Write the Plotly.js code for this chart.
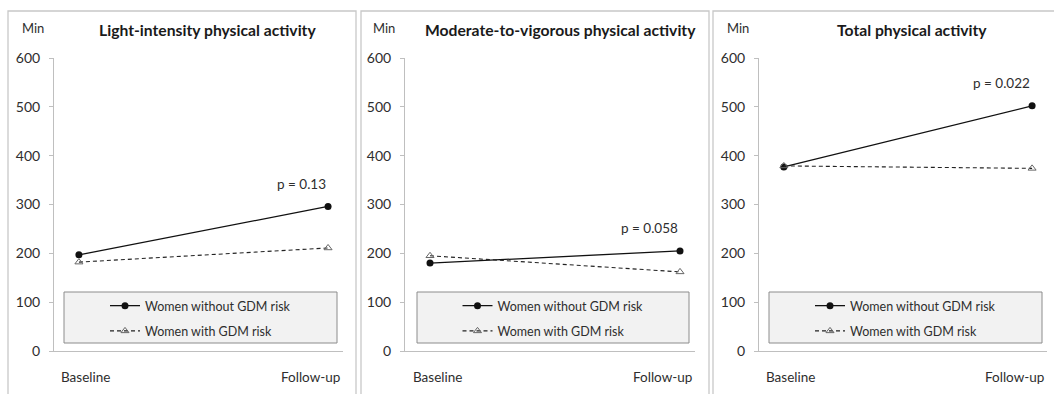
<!DOCTYPE html>
<html>
<head>
<meta charset="utf-8">
<script src="https://cdn.plot.ly/plotly-3.0.1.min.js"></script>
<style>html,body{margin:0;padding:0;background:#fff;}#chart{width:1054px;height:394px;}</style>
</head>
<body>
<div id="chart"></div>
<script>
// ---- data ----
const timepoints = ["Baseline", "Follow-up"];
const panelTitles = ["Light-intensity physical activity", "Moderate-to-vigorous physical activity", "Total physical activity"];
const seriesNames = ["Women without GDM risk", "Women with GDM risk"];
const lightNoRisk = [197, 296];
const lightRisk = [182, 211];
const mvpaNoRisk = [180, 205];
const mvpaRisk = [195, 162];
const totalNoRisk = [377, 502];
const totalRisk = [379, 374];
const pValues = ["p = 0.13", "p = 0.058", "p = 0.022"];
const pLabelY = [342, 252, 549];
const yTicks = [0, 100, 200, 300, 400, 500, 600];

// ---- layout helpers (pixel -> paper) ----
const W = 1054, H = 394;
const px = v => v / W;
const py = v => 1 - v / H;
const FONT = "Lato, 'Open Sans', sans-serif";
const TXT = "#2e2e2e";

const axisX = [[54, 343], [405, 695], [759, 1047]];
const frames = [[8, 356], [361, 709], [713, 1070]];
const legendBoxes = [[64, 337], [417, 689], [769, 1042]];
const titleX = [207, 560, 912];

const noRisk = [lightNoRisk, mvpaNoRisk, totalNoRisk];
const risk = [lightRisk, mvpaRisk, totalRisk];

const traces = [];
const layout = {
  width: W, height: H,
  margin: {l: 0, r: 0, t: 0, b: 0},
  paper_bgcolor: "#ffffff",
  plot_bgcolor: "rgba(0,0,0,0)",
  font: {family: FONT, size: 13, color: TXT},
  showlegend: true,
  shapes: [],
  annotations: []
};

for (let i = 0; i < 3; i++) {
  const sfx = i === 0 ? "" : String(i + 1);
  const legName = i === 0 ? "legend" : "legend" + (i + 1);
  const xa = "x" + sfx, ya = "y" + sfx;
  traces.push({
    x: [0, 1], y: noRisk[i], xaxis: xa, yaxis: ya,
    type: "scatter", mode: "lines+markers",
    name: seriesNames[0], legend: legName, legendgroup: "a" + i,
    line: {color: "#111111", width: 1.3},
    marker: {symbol: "circle", size: 7, color: "#111111"},
    hoverinfo: "skip"
  });
  traces.push({
    x: [0, 1], y: risk[i], xaxis: xa, yaxis: ya,
    type: "scatter", mode: "lines+markers",
    name: seriesNames[1], legend: legName, legendgroup: "b" + i,
    line: {color: "#222222", width: 1.1, dash: "4px,3px"},
    marker: {symbol: "triangle-up-open", size: 7, color: "#666666", line: {width: 1}},
    hoverinfo: "skip"
  });

  layout["xaxis" + sfx] = {
    domain: [px(axisX[i][0]), px(axisX[i][1])],
    anchor: ya,
    range: [-0.1, 1.06],
    tickvals: [0, 1],
    showticklabels: false,
    showgrid: false, zeroline: false,
    showline: true, linecolor: "#bfbfbf", linewidth: 1,
    ticks: "",
    fixedrange: true
  };
  layout["yaxis" + sfx] = {
    domain: [1 - 351 / H, 1 - 58 / H],
    anchor: xa,
    range: [0, 600],
    tickvals: yTicks,
    showgrid: false, zeroline: false,
    showline: true, linecolor: "#bfbfbf", linewidth: 1,
    ticks: "outside", ticklen: 4, tickcolor: "#bfbfbf",
    ticklabelstandoff: 6,
    tickfont: {family: FONT, size: 14, color: TXT},
    fixedrange: true
  };

  // category labels under the x axis
  timepoints.forEach((t, j) => {
    layout.annotations.push({
      text: t, xref: xa, yref: "paper",
      x: j, y: py(377),
      xanchor: j === 0 ? "center" : "right",
      xshift: j === 0 ? 7 : 14,
      yanchor: "middle", showarrow: false,
      font: {family: FONT, size: 13.5, color: TXT}
    });
  });

  // panel frame
  layout.shapes.push({
    type: "rect", xref: "paper", yref: "paper",
    x0: px(frames[i][0]), x1: px(frames[i][1]), y0: py(420), y1: py(11),
    line: {color: "#c8c8c8", width: 1.3}, fillcolor: "rgba(0,0,0,0)", layer: "below"
  });
  // legend box
  layout.shapes.push({
    type: "rect", xref: "paper", yref: "paper",
    x0: px(legendBoxes[i][0]), x1: px(legendBoxes[i][1]), y0: py(343), y1: py(292),
    line: {color: "#8c8c8c", width: 1}, fillcolor: "#f2f2f2", layer: "below"
  });

  layout[legName] = {
    x: px((legendBoxes[i][0] + legendBoxes[i][1]) / 2), xanchor: "center",
    y: py(291), yanchor: "top",
    xref: "paper", yref: "paper",
    bgcolor: "rgba(0,0,0,0)", borderwidth: 0,
    traceorder: "grouped", tracegroupgap: 6,
    itemwidth: 30,
    font: {family: FONT, size: 12.5, color: TXT}
  };

  // title
  layout.annotations.push({
    text: "<b>" + panelTitles[i] + "</b>", xref: "paper", yref: "paper",
    x: px(titleX[i]), y: py(30), xanchor: "center", yanchor: "middle",
    showarrow: false, font: {family: FONT, size: 15.7, color: "#1a1a1a"}
  });
  // "Min" unit label
  layout.annotations.push({
    text: "Min", xref: "paper", yref: "paper",
    x: px(axisX[i][0] - 21), y: py(28), xanchor: "center", yanchor: "middle",
    showarrow: false, font: {family: FONT, size: 13, color: TXT}
  });
  // p-value
  layout.annotations.push({
    text: pValues[i], xref: xa, yref: ya,
    x: 1, y: pLabelY[i], xanchor: "right", yanchor: "middle", xshift: 0,
    showarrow: false, font: {family: FONT, size: 13.5, color: TXT}
  });
}

Plotly.newPlot("chart", traces, layout, {displayModeBar: false, staticPlot: true});
</script>
</body>
</html>
